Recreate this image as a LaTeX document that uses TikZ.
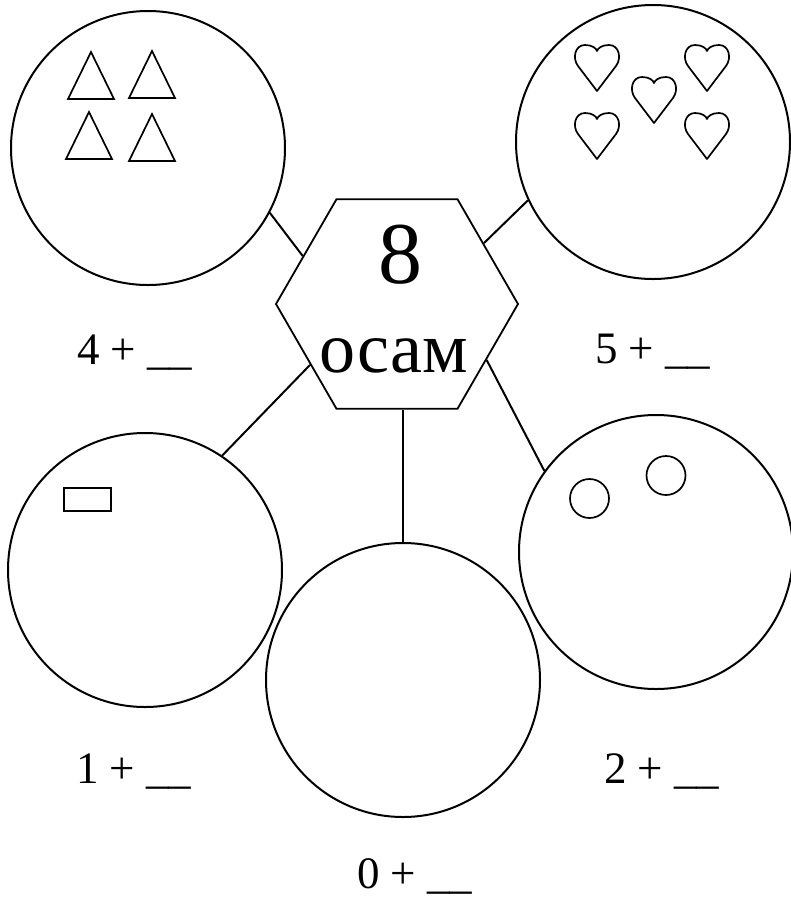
\documentclass[tikz,border=0pt]{standalone}
\usepackage{fontspec}
\setmainfont{Liberation Serif}
\usetikzlibrary{shapes.geometric}
\begin{document}
\begin{tikzpicture}[x=1pt,y=-1pt,line width=2pt,
  bigcirc/.style={circle,draw,line width=2pt,minimum size=274pt,inner sep=0pt},
  hexnode/.style={regular polygon,regular polygon sides=6,draw,line width=1.8pt,minimum size=242pt,inner sep=0pt},
  lab/.style={anchor=base west,inner sep=0pt,font=\fontsize{45}{54}\selectfont},
  link/.style={line width=2pt},
  smallshape/.style={line width=1.7pt},
  heart/.pic={\draw[smallshape,line join=round] (0,46) -- (-19,21) .. controls (-25,13) and (-22,0) .. (-12,0) .. controls (-5,0) and (-1,3) .. (0,6) .. controls (1,3) and (5,0) .. (12,0) .. controls (22,0) and (25,13) .. (19,21) -- cycle;},
  tri/.pic={\draw[smallshape,line join=miter] (0,0) -- (-23,47) -- (23,47) -- cycle;}
]
\useasboundingbox (0,0) rectangle (791,903);
\fill[white] (0,0) rectangle (791,903);
% circles
\node[bigcirc] (tl) at (148,148) {};
\node[bigcirc] (tr) at (653,142) {};
\node[bigcirc] (bl) at (145,570) {};
\node[bigcirc] (br) at (656,552) {};
\node[bigcirc] (bc) at (403,680) {};
% hexagon
\node[hexnode] (hex) at (397,304) {};
\node[anchor=base,inner sep=0pt,font=\fontsize{88}{100}\selectfont] (eight) at (400,283) {8};
\node[anchor=base,inner sep=0pt,font=\fontsize{72}{86}\selectfont] (word) at (394,372) {осам};
% connectors
\draw[link] (tl.-28.6) -- (hex.153.4);
\draw[link] (tr.-155.1) -- (hex.35);
\draw[link] (bl.56.9) -- (hex.215.7);
\draw[link] (br.144.2) -- (hex.-32.2);
\draw[link] (bc.north) -- (bc.north |- hex.south);
% triangles
\pic at (91,52) {tri};
\pic at (152,51) {tri};
\pic at (89,112) {tri};
\pic at (152,114) {tri};
% hearts
\pic at (597,45) {heart};
\pic at (654,77) {heart};
\pic at (707,45) {heart};
\pic at (597,113) {heart};
\pic at (707,113) {heart};
% rectangle
\draw[smallshape] (64,488) rectangle (111,511);
% small circles
\draw[smallshape] (589.5,498.5) circle[radius=19.5];
\draw[smallshape] (666,475.5) circle[radius=19.5];
% labels
\node[lab] (l4) at (76,364) {4 + \_\_};
\node[lab] (l5) at (594,363) {5 + \_\_};
\node[lab] (l1) at (75,783) {1 + \_\_};
\node[lab] (l2) at (603,783) {2 + \_\_};
\node[lab] (l0) at (356,888) {0 + \_\_};
\end{tikzpicture}
\end{document}
